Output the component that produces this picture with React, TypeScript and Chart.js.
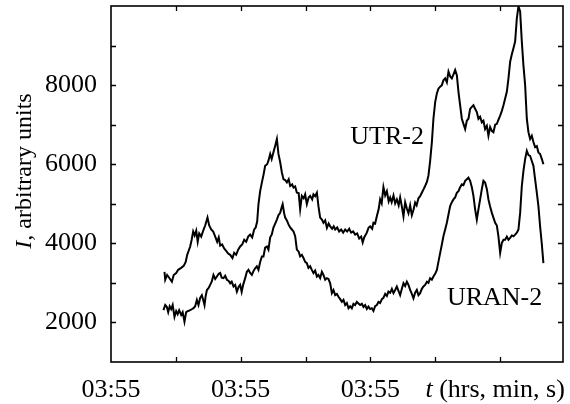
import { useEffect, useRef } from "react";
import { Chart, registerables } from "chart.js";

Chart.register(...registerables);

// UTR-2 decametre radio flux: sample times (axis units) and intensities
const UTR2_TIME = [
  0.825, 0.836, 0.866, 0.897, 0.939, 0.967, 1.005, 1.036, 1.082, 1.121,
  1.152, 1.175, 1.195, 1.221, 1.244, 1.267, 1.290, 1.314, 1.337, 1.360,
  1.391, 1.422, 1.452, 1.488, 1.514, 1.545, 1.576, 1.607, 1.637, 1.661,
  1.684, 1.714, 1.745, 1.776, 1.807, 1.838, 1.873, 1.899, 1.930, 1.961,
  1.992, 2.023, 2.054, 2.085, 2.115, 2.146, 2.177, 2.208, 2.231, 2.254,
  2.274, 2.300, 2.327, 2.354, 2.377, 2.408, 2.428, 2.455, 2.478, 2.505,
  2.532, 2.558, 2.582, 2.609, 2.635, 2.660, 2.686, 2.712, 2.740, 2.763,
  2.794, 2.814, 2.840, 2.866, 2.894, 2.917, 2.943, 2.971, 2.994, 3.020,
  3.048, 3.071, 3.102, 3.122, 3.148, 3.175, 3.199, 3.225, 3.252, 3.276,
  3.303, 3.329, 3.356, 3.380, 3.410, 3.434, 3.457, 3.488, 3.518, 3.549,
  3.580, 3.611, 3.642, 3.673, 3.703, 3.734, 3.765, 3.796, 3.827, 3.858,
  3.881, 3.904, 3.945, 3.973, 3.996, 4.027, 4.047, 4.073, 4.100, 4.127,
  4.150, 4.174, 4.201, 4.228, 4.254, 4.282, 4.305, 4.328, 4.356, 4.382,
  4.408, 4.436, 4.459, 4.482, 4.510, 4.536, 4.562, 4.587, 4.613, 4.639,
  4.667, 4.690, 4.713, 4.741, 4.767, 4.793, 4.821, 4.844, 4.871, 4.895,
  4.921, 4.948, 4.972, 4.999, 5.025, 5.049, 5.076, 5.102, 5.126, 5.153,
  5.179, 5.204, 5.230, 5.256, 5.281, 5.307, 5.333, 5.358, 5.384, 5.410,
  5.435, 5.461, 5.487, 5.512, 5.538, 5.564, 5.589, 5.615, 5.641, 5.666,
  5.692, 5.718, 5.743, 5.769, 5.796, 5.820, 5.846, 5.873, 5.897, 5.924,
  5.950, 5.974, 6.001, 6.027, 6.052, 6.078, 6.104, 6.129, 6.155, 6.181,
  6.206, 6.232, 6.258, 6.283, 6.309, 6.335, 6.360, 6.386, 6.412, 6.437,
  6.463, 6.489, 6.514, 6.540, 6.566, 6.591, 6.617, 6.644, 6.668,
];
const UTR2_FLUX = [
  3280, 3080, 3200, 3130, 3030, 3200, 3250, 3330, 3380, 3430,
  3530, 3710, 3800, 3920, 4090, 4300, 4200, 4320, 4040, 4250,
  4170, 4320, 4450, 4650, 4450, 4350, 4300, 4170, 4040, 4150,
  3940, 3970, 3870, 3810, 3740, 3710, 3630, 3760, 3710, 3840,
  3920, 3970, 4090, 4040, 4170, 4220, 4150, 4350, 4400, 4550,
  4990, 5320, 5540, 5750, 5960, 6000, 6090, 6260, 6130, 6300,
  6470, 6640, 6260, 6050, 5790, 5620, 5600, 5540, 5620, 5450,
  5490, 5410, 5440, 5280, 5270, 4860, 5200, 5140, 5240, 4990,
  5160, 5200, 5110, 5240, 5190, 5280, 4940, 4650, 4600, 4520,
  4580, 4390, 4500, 4430, 4370, 4430, 4350, 4400, 4300, 4350,
  4270, 4350, 4300, 4370, 4270, 4300, 4220, 4250, 4120, 4170,
  4020, 4150, 4270, 4400, 4430, 4370, 4520, 4500, 4690, 4860,
  5110, 5010, 5420, 5210, 5320, 5060, 5160, 5040, 5210, 5010,
  5110, 4960, 5160, 4960, 4680, 5040, 4880, 4760, 4960, 4710,
  4860, 5030, 4960, 5140, 5190, 5280, 5370, 5450, 5550, 5710,
  6080, 6560, 7150, 7570, 7790, 7910, 7960, 8000, 8120, 8170,
  8070, 8340, 8220, 8170, 8270, 8380, 8250, 7830, 7490, 7150,
  7020, 6890, 7100, 7150, 7400, 7450, 7490, 7400, 7320, 7150,
  7200, 7060, 7100, 6890, 6970, 6720, 6940, 6840, 6810, 7000,
  7020, 7120, 7230, 7350, 7490, 7660, 7830, 8170, 8590, 8780,
  8930, 9100, 9690, 9990, 9860, 9100, 8500, 8000, 7150, 6810,
  6640, 6720, 6560, 6430, 6460, 6300, 6260, 6130, 6000,
];

// URAN-2 radio flux: sample times (axis units) and intensities
const URAN2_TIME = [
  0.809, 0.836, 0.862, 0.882, 0.905, 0.928, 0.951, 0.979, 1.005, 1.028,
  1.051, 1.082, 1.105, 1.133, 1.159, 1.190, 1.221, 1.252, 1.272, 1.298,
  1.324, 1.349, 1.375, 1.401, 1.422, 1.442, 1.460, 1.479, 1.506, 1.529,
  1.553, 1.580, 1.607, 1.633, 1.661, 1.684, 1.707, 1.735, 1.761, 1.787,
  1.815, 1.838, 1.861, 1.889, 1.915, 1.941, 1.969, 1.992, 2.015, 2.038,
  2.069, 2.095, 2.120, 2.146, 2.172, 2.200, 2.223, 2.249, 2.274, 2.300,
  2.327, 2.351, 2.377, 2.404, 2.428, 2.455, 2.478, 2.505, 2.532, 2.558,
  2.582, 2.609, 2.635, 2.647, 2.670, 2.686, 2.712, 2.737, 2.763, 2.789,
  2.814, 2.840, 2.866, 2.894, 2.917, 2.943, 2.968, 2.994, 3.020, 3.045,
  3.071, 3.097, 3.122, 3.148, 3.175, 3.199, 3.225, 3.252, 3.276, 3.303,
  3.329, 3.353, 3.380, 3.406, 3.431, 3.457, 3.483, 3.508, 3.534, 3.560,
  3.585, 3.611, 3.637, 3.662, 3.688, 3.714, 3.739, 3.765, 3.791, 3.816,
  3.842, 3.868, 3.893, 3.919, 3.945, 3.970, 3.996, 4.022, 4.047, 4.073,
  4.100, 4.124, 4.150, 4.177, 4.201, 4.228, 4.254, 4.278, 4.305, 4.331,
  4.356, 4.382, 4.408, 4.433, 4.459, 4.485, 4.510, 4.536, 4.562, 4.587,
  4.613, 4.639, 4.664, 4.690, 4.716, 4.741, 4.767, 4.793, 4.818, 4.844,
  4.871, 4.895, 4.921, 4.948, 4.972, 4.999, 5.025, 5.049, 5.076, 5.102,
  5.126, 5.153, 5.179, 5.204, 5.230, 5.256, 5.281, 5.307, 5.333, 5.358,
  5.384, 5.410, 5.435, 5.461, 5.487, 5.512, 5.538, 5.564, 5.589, 5.615,
  5.641, 5.666, 5.692, 5.718, 5.743, 5.769, 5.796, 5.820, 5.846, 5.873,
  5.897, 5.924, 5.950, 5.974, 6.001, 6.027, 6.052, 6.078, 6.104, 6.129,
  6.155, 6.181, 6.206, 6.232, 6.258, 6.283, 6.309, 6.335, 6.360, 6.386,
  6.412, 6.437, 6.463, 6.489, 6.514, 6.540, 6.566, 6.591, 6.617, 6.644,
  6.668,
];
const URAN2_FLUX = [
  2310, 2440, 2390, 2260, 2410, 2340, 2440, 2140, 2290, 2210,
  2310, 2190, 2260, 2020, 2260, 2290, 2310, 2340, 2360, 2410,
  2570, 2440, 2620, 2690, 2570, 2440, 2670, 2820, 2870, 2950,
  3030, 3200, 3100, 3160, 3230, 3250, 3130, 3120, 3180, 3080,
  3050, 2990, 3030, 2910, 2950, 2780, 2900, 2950, 2770, 2950,
  3120, 3280, 3330, 3250, 3200, 3310, 3370, 3420, 3330, 3530,
  3670, 3670, 3890, 3920, 3840, 4150, 4220, 4400, 4500, 4600,
  4710, 4770, 4930, 4990, 4760, 4650, 4580, 4480, 4400, 4350,
  4300, 4180, 3840, 3790, 3670, 3710, 3630, 3530, 3500, 3380,
  3420, 3330, 3250, 3310, 3160, 3200, 3120, 3280, 3200, 3080,
  3120, 3100, 2990, 2740, 2820, 2690, 2720, 2650, 2590, 2520,
  2570, 2440, 2490, 2360, 2410, 2360, 2470, 2440, 2520, 2480,
  2440, 2470, 2390, 2440, 2340, 2400, 2340, 2360, 2290, 2410,
  2440, 2520, 2490, 2590, 2620, 2720, 2670, 2780, 2750, 2850,
  2740, 2820, 2910, 2800, 2690, 2850, 2990, 2920, 3030, 2950,
  2820, 2720, 2610, 2750, 2820, 2690, 2740, 2850, 2910, 2950,
  3030, 3000, 3120, 3080, 3160, 3230, 3330, 3530, 3760, 3970,
  4180, 4350, 4520, 4730, 4940, 5040, 5110, 5160, 5280, 5320,
  5420, 5490, 5470, 5580, 5620, 5660, 5580, 5420, 5200, 4860,
  4600, 4860, 5110, 5370, 5580, 5540, 5370, 5110, 4930, 4770,
  4650, 4520, 4450, 4180, 3760, 4010, 4090, 4090, 4170, 4090,
  4140, 4200, 4180, 4220, 4270, 4350, 4770, 5450, 5830, 6130,
  6340, 6230, 6210, 6080, 5960, 5620, 5280, 4940, 4430, 3970,
  3500,
];

// Axis layout
const X_MIN = 0;
const X_MAX = 6.97;
const Y_MIN = 1000;
const Y_MAX = 10000;
const Y_LABELLED = [2000, 4000, 6000, 8000];
const Y_TICK_MARKS = [2000, 3000, 4000, 5000, 6000, 7000, 8000, 9000];
const X_TICK_MARKS = [1, 2, 3, 4, 5, 6];
const X_LABEL_TIMES = [0, 2, 4];
const X_LABELS = ["03:55", "03:55", "03:55"];
const X_UNIT_TIME = 6;
const X_UNIT_VAR = "t";
const X_UNIT_TEXT = " (hrs, min, s)";
const Y_TITLE_VAR = "I";
const Y_TITLE_TEXT = ", arbitrary units";

// Series name annotations, anchored in data coordinates
const SERIES_NAMES = ["UTR-2", "URAN-2"];
const SERIES_NAME_TIME = [3.69, 5.18];
const SERIES_NAME_FLUX = [6500, 2440];

const SERIF = "'Liberation Serif', 'Times New Roman', serif";

const toPoints = (t: number[], v: number[]) => t.map((x, i) => ({ x, y: v[i] }));

const framePlugin = {
  id: "frameAndLabels",
  afterDraw(chart: any) {
    const { ctx, chartArea: a, scales } = chart;
    const xs = scales.x;
    const ys = scales.y;
    ctx.save();
    ctx.strokeStyle = "#000";
    ctx.fillStyle = "#000";

    // inward tick marks on all four sides
    ctx.lineWidth = 1.3;
    ctx.beginPath();
    for (const v of Y_TICK_MARKS) {
      const y = Math.round(ys.getPixelForValue(v)) + 0.5;
      ctx.moveTo(a.left, y);
      ctx.lineTo(a.left + 5, y);
      ctx.moveTo(a.right, y);
      ctx.lineTo(a.right - 5, y);
    }
    for (const t of X_TICK_MARKS) {
      const x = Math.round(xs.getPixelForValue(t)) + 0.5;
      ctx.moveTo(x, a.bottom);
      ctx.lineTo(x, a.bottom - 5);
      ctx.moveTo(x, a.top);
      ctx.lineTo(x, a.top + 5);
    }
    ctx.stroke();

    // plot frame
    ctx.lineWidth = 1.6;
    ctx.strokeRect(a.left, a.top, a.right - a.left, a.bottom - a.top);

    // time axis labels
    ctx.font = `26px ${SERIF}`;
    ctx.textBaseline = "alphabetic";
    ctx.textAlign = "center";
    const baseX = a.bottom + 35;
    X_LABEL_TIMES.forEach((t, i) => {
      ctx.fillText(X_LABELS[i], xs.getPixelForValue(t), baseX);
    });
    ctx.textAlign = "left";
    ctx.font = `italic 26px ${SERIF}`;
    const wVar = ctx.measureText(X_UNIT_VAR).width;
    ctx.font = `26px ${SERIF}`;
    const wText = ctx.measureText(X_UNIT_TEXT).width;
    const ux = xs.getPixelForValue(X_UNIT_TIME) - (wVar + wText) / 2 - 5;
    ctx.font = `italic 26px ${SERIF}`;
    ctx.fillText(X_UNIT_VAR, ux, baseX);
    ctx.font = `26px ${SERIF}`;
    ctx.fillText(X_UNIT_TEXT, ux + wVar, baseX);

    // vertical axis title
    ctx.save();
    ctx.translate(30.5, 171);
    ctx.rotate(-Math.PI / 2);
    ctx.font = `italic 24px ${SERIF}`;
    const wI = ctx.measureText(Y_TITLE_VAR).width;
    ctx.font = `24px ${SERIF}`;
    const wRest = ctx.measureText(Y_TITLE_TEXT).width;
    const sx = -(wI + wRest) / 2;
    ctx.font = `italic 24px ${SERIF}`;
    ctx.fillText(Y_TITLE_VAR, sx, 0);
    ctx.font = `24px ${SERIF}`;
    ctx.fillText(Y_TITLE_TEXT, sx + wI, 0);
    ctx.restore();

    // series names
    ctx.font = `26px ${SERIF}`;
    ctx.textAlign = "left";
    SERIES_NAMES.forEach((name, i) => {
      ctx.fillText(
        name,
        xs.getPixelForValue(SERIES_NAME_TIME[i]),
        ys.getPixelForValue(SERIES_NAME_FLUX[i])
      );
    });
    ctx.restore();
  },
};

export default function App() {
  const canvasRef = useRef<HTMLCanvasElement | null>(null);

  useEffect(() => {
    const canvas = canvasRef.current;
    if (!canvas) return;
    const lineStyle = {
      borderColor: "#000",
      borderWidth: 2,
      pointRadius: 0,
      tension: 0,
      fill: false,
    };
    const chart = new Chart(canvas, {
      type: "line",
      data: {
        datasets: [
          { label: SERIES_NAMES[0], data: toPoints(UTR2_TIME, UTR2_FLUX), ...lineStyle },
          { label: SERIES_NAMES[1], data: toPoints(URAN2_TIME, URAN2_FLUX), ...lineStyle },
        ],
      },
      options: {
        responsive: false,
        animation: false,
        devicePixelRatio: 1,
        layout: { padding: { top: 6, right: 7, left: 0, bottom: 0 } },
        plugins: {
          legend: { display: false },
          tooltip: { enabled: false },
        },
        scales: {
          x: {
            type: "linear",
            min: X_MIN,
            max: X_MAX,
            grid: { display: false, drawTicks: false },
            border: { display: false },
            ticks: { display: false },
            afterFit: (s: any) => {
              s.height = 42;
              s.paddingLeft = 0;
              s.paddingRight = 0;
            },
          },
          y: {
            type: "linear",
            min: Y_MIN,
            max: Y_MAX,
            grid: { display: false, drawTicks: false },
            border: { display: false },
            afterBuildTicks: (s: any) => {
              s.ticks = Y_LABELLED.map((value) => ({ value }));
            },
            ticks: {
              autoSkip: false,
              padding: 14,
              color: "#000",
              font: { family: SERIF, size: 26 },
              callback: (v: any) => String(v),
            },
            afterFit: (s: any) => {
              s.width = 111;
              s.paddingTop = 0;
              s.paddingBottom = 0;
            },
          },
        },
      },
      plugins: [framePlugin],
    });
    return () => chart.destroy();
  }, []);

  return (
    <div
      style={{
        position: "fixed",
        left: 0,
        top: 0,
        width: 570,
        height: 404,
        background: "#fff",
      }}
    >
      <canvas ref={canvasRef} width={570} height={404} />
    </div>
  );
}
